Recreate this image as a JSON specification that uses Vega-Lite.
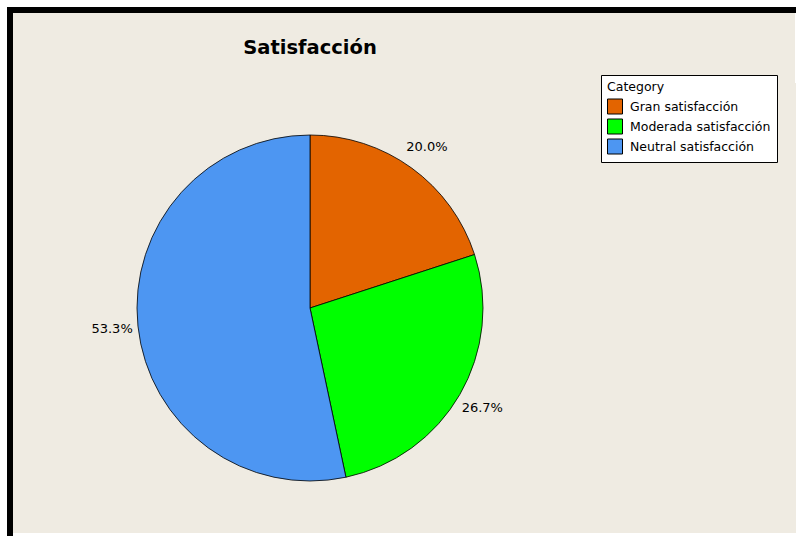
{
  "$schema": "https://vega.github.io/schema/vega-lite/v6.json",
  "autosize": {"type": "pad"},
  "padding": {"left": 5, "top": 5, "right": 0, "bottom": 2},
  "background": "white",
  "data": {"values": [
    {"Category": "Gran satisfacción", "share": 0.2},
    {"Category": "Moderada satisfacción", "share": 0.2667},
    {"Category": "Neutral satisfacción", "share": 0.5333}
  ]},
  "spacing": 0,
  "bounds": "flush",
  "vconcat": [
    {
      "width": 785,
      "height": 73,
      "view": {"fill": "#efebe2", "stroke": "black", "strokeWidth": 6, "strokeDash": [785, 858, 73, 10], "strokeCap": "square"},
      "mark": {"type": "text"},
      "encoding": {"text": {"value": ""}}
    },
    {
      "spacing": 0,
      "bounds": "flush",
      "hconcat": [
        {
          "width": 600,
          "height": 450,
          "view": {"fill": "#efebe2", "stroke": "black", "strokeWidth": 6, "strokeDash": [0, 1650, 450, 10], "strokeCap": "square"},
          "title": {"text": "Satisfacción", "anchor": "middle", "frame": "group", "offset": 10, "baseline": "alphabetic", "font": "DejaVu Sans", "fontSize": 19.5, "fontWeight": "bold", "color": "black"},
          "encoding": {"theta": {"field": "share", "type": "quantitative", "stack": true}},
          "layer": [
            {
              "mark": {"type": "arc", "outerRadius": 173, "stroke": "black", "strokeWidth": 0.8},
              "encoding": {
                "color": {
                  "field": "Category",
                  "type": "nominal",
                  "scale": {"domain": ["Gran satisfacción", "Moderada satisfacción", "Neutral satisfacción"], "range": ["#e36400", "#00ff00", "#4d96f2"]},
                  "legend": {
                    "title": "Category",
                    "orient": "none",
                    "legendX": 591,
                    "legendY": 65,
                    "titleFont": "DejaVu Sans",
                    "titleFontSize": 12.5,
                    "titleFontWeight": "normal",
                    "titleColor": "black",
                    "titlePadding": 5,
                    "labelFont": "DejaVu Sans",
                    "labelFontSize": 12.5,
                    "labelColor": "black",
                    "labelOffset": 7,
                    "symbolType": "square",
                    "symbolSize": 225,
                    "symbolStrokeColor": "black",
                    "symbolStrokeWidth": 1,
                    "symbolOpacity": 1,
                    "rowPadding": 0,
                    "padding": 6,
                    "strokeColor": "black",
                    "fillColor": "white"
                  }
                }
              }
            },
            {
              "mark": {"type": "text", "radius": 199, "font": "DejaVu Sans", "fontSize": 13, "color": "black"},
              "encoding": {
                "detail": {"field": "Category", "type": "nominal"},
                "text": {"field": "share", "type": "quantitative", "format": ".1%"}
              }
            }
          ]
        },
        {
          "width": 188,
          "height": 450,
          "view": {"fill": "#efebe2", "stroke": null},
          "mark": {"type": "text"},
          "encoding": {"text": {"value": ""}}
        }
      ]
    }
  ]
}
